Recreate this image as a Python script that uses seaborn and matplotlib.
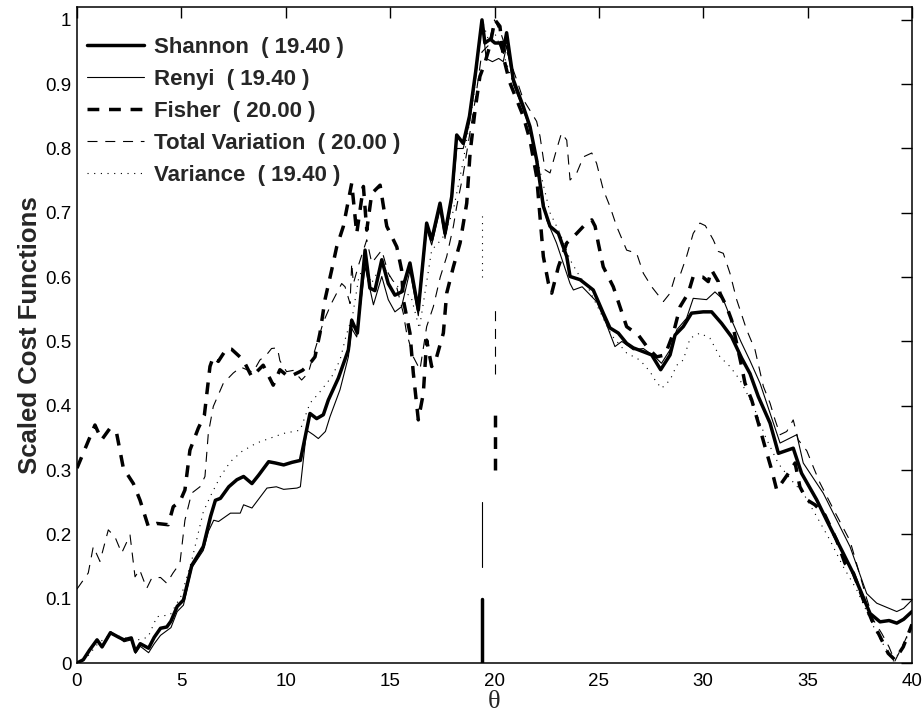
import numpy as np
import pandas as pd
import matplotlib
matplotlib.use("Agg")
import matplotlib.pyplot as plt
import seaborn as sns

# ---------------- data ----------------
shannon_t = [0, 0.3, 0.6, 0.96, 1.2, 1.6, 2.0, 2.25, 2.6, 2.8, 3.03, 3.43, 3.7, 4.0, 4.3, 4.5, 4.8, 5.1, 5.5, 6.05,
             6.4, 6.63, 6.87, 7.27, 7.66, 7.98, 8.38, 8.7, 9.18, 9.5, 9.9, 10.3, 10.7, 11.16, 11.48, 11.8, 12.04, 12.52,
             13.0, 13.16, 13.43, 13.8, 14.03, 14.27, 14.6, 14.91, 15.23, 15.55, 15.95, 16.35, 16.75, 16.99, 17.39,
             17.63, 17.95, 18.19, 18.5, 18.8, 19.1, 19.4, 19.54, 19.8, 20.02, 20.26, 20.42, 20.58, 20.9, 21.38, 21.7,
             22.02, 22.34, 22.66, 23.06, 23.46, 23.62, 24.1, 24.73, 25.21, 25.53, 25.93, 26.33, 26.65, 27.13, 27.53,
             27.96, 28.41, 28.65, 29.04, 29.44, 30.0, 30.4, 30.88, 31.36, 31.84, 32.24, 32.64, 33.2, 33.6, 34.31,
             34.71, 35.43, 35.91, 36.7, 37.19, 37.99, 38.47, 38.9, 39.27, 39.6, 40]
shannon_v = [0, 0.005, 0.02, 0.036, 0.025, 0.047, 0.04, 0.036, 0.039, 0.018, 0.03, 0.023, 0.04, 0.054, 0.056, 0.065,
             0.088, 0.098, 0.152, 0.181, 0.228, 0.253, 0.256, 0.274, 0.285, 0.29, 0.279, 0.292, 0.313, 0.311, 0.308,
             0.312, 0.315, 0.388, 0.38, 0.386, 0.409, 0.443, 0.487, 0.533, 0.513, 0.642, 0.583, 0.579, 0.627, 0.59,
             0.572, 0.577, 0.622, 0.549, 0.684, 0.658, 0.715, 0.668, 0.725, 0.821, 0.808, 0.85, 0.92, 1.0, 0.964,
             0.97, 0.964, 0.964, 0.951, 0.98, 0.907, 0.865, 0.834, 0.782, 0.71, 0.679, 0.668, 0.632, 0.601, 0.596,
             0.58, 0.544, 0.521, 0.513, 0.497, 0.49, 0.484, 0.479, 0.456, 0.479, 0.51, 0.523, 0.544, 0.546, 0.546,
             0.528, 0.507, 0.474, 0.45, 0.414, 0.373, 0.326, 0.334, 0.295, 0.254, 0.222, 0.171, 0.139, 0.077, 0.064,
             0.066, 0.062, 0.068, 0.08]

renyi_t = [0, 0.3, 0.6, 0.96, 1.2, 1.6, 2.0, 2.25, 2.6, 2.8, 3.03, 3.43, 3.7, 4.0, 4.5, 4.8, 5.1, 5.5, 6.05, 6.3,
           6.55, 6.78, 7.35, 7.82, 7.98, 8.38, 9.1, 9.55, 9.9, 10.54, 10.7, 11.0, 11.32, 11.56, 11.9, 12.12, 12.6,
           13.0, 13.16, 13.4, 13.8, 14.2, 14.6, 14.91, 15.23, 15.55, 15.95, 16.35, 16.75, 16.99, 17.39, 17.63, 17.95,
           18.19, 18.5, 18.8, 19.1, 19.4, 19.6, 19.9, 20.2, 20.42, 20.58, 20.9, 21.38, 21.7, 22.02, 22.5, 22.97,
           23.62, 23.78, 24.2, 24.89, 25.37, 25.77, 26.1, 26.65, 27.13, 27.69, 28.0, 28.41, 28.73, 29.2, 29.52,
           30.16, 30.56, 30.96, 31.28, 31.8, 32.24, 32.72, 33.68, 34.48, 34.79, 35.75, 37.03, 37.83, 38.31, 38.9,
           39.27, 39.6, 40]
renyi_v = [0, 0.005, 0.02, 0.034, 0.025, 0.049, 0.04, 0.033, 0.036, 0.015, 0.026, 0.016, 0.03, 0.043, 0.055, 0.08,
           0.09, 0.148, 0.175, 0.205, 0.222, 0.22, 0.233, 0.233, 0.246, 0.241, 0.272, 0.274, 0.27, 0.272, 0.274,
           0.362, 0.355, 0.349, 0.36, 0.383, 0.425, 0.476, 0.52, 0.507, 0.616, 0.557, 0.601, 0.565, 0.546, 0.554,
           0.61, 0.54, 0.675, 0.65, 0.705, 0.66, 0.715, 0.8, 0.8, 0.84, 0.91, 1.0, 0.94, 0.935, 0.94, 0.935, 0.96,
           0.9, 0.86, 0.83, 0.78, 0.689, 0.653, 0.59, 0.58, 0.585, 0.562, 0.526, 0.492, 0.5, 0.487, 0.489, 0.476,
           0.466, 0.487, 0.518, 0.536, 0.567, 0.565, 0.577, 0.565, 0.539, 0.5, 0.47, 0.435, 0.342, 0.355, 0.311,
           0.264, 0.181, 0.108, 0.093, 0.085, 0.08, 0.085, 0.098]

fisher_t = [0, 0.86, 1.18, 1.58, 1.9, 2.22, 2.7, 3.02, 3.42, 3.82, 4.37, 4.61, 4.93, 5.17, 5.41, 5.81, 6.1, 6.37,
            6.53, 6.77, 7.17, 7.4, 7.97, 8.37, 8.92, 9.4, 9.72, 10.13, 10.36, 10.8, 11.16, 11.4, 11.64, 11.88, 12.2,
            12.44, 12.76, 13.16, 13.4, 13.72, 13.88, 14.12, 14.52, 14.68, 14.84, 15.32, 15.55, 15.63, 15.95, 16.11,
            16.35, 16.59, 16.75, 16.99, 17.23, 17.55, 17.71, 18.03, 18.35, 18.51, 18.67, 18.83, 19.07, 19.3, 19.54,
            19.78, 20.02, 20.26, 20.42, 20.58, 20.74, 21.06, 21.38, 21.7, 22.02, 22.18, 22.34, 22.58, 22.74, 23.06,
            23.46, 23.94, 24.26, 24.66, 24.82, 24.97, 25.21, 25.69, 26.01, 26.33, 26.89, 27.37, 27.77, 28.17, 28.57,
            28.89, 29.28, 29.52, 29.98, 30.24, 30.4, 30.72, 30.8, 31.12, 31.36, 31.84, 32.0, 32.32, 32.64, 32.96,
            33.28, 33.52, 34.08, 34.4, 34.63, 34.95, 35.35, 35.83, 36.39, 36.79, 37.19, 37.67, 38.07, 38.47, 38.86,
            39.18, 39.58, 40]
fisher_v = [0.303, 0.37, 0.347, 0.365, 0.357, 0.303, 0.279, 0.253, 0.212, 0.217, 0.215, 0.243, 0.251, 0.269, 0.331,
            0.365, 0.385, 0.461, 0.476, 0.469, 0.489, 0.488, 0.471, 0.445, 0.463, 0.432, 0.456, 0.445, 0.448, 0.455,
            0.466, 0.476, 0.513, 0.565, 0.611, 0.647, 0.679, 0.746, 0.668, 0.741, 0.673, 0.73, 0.743, 0.71, 0.679,
            0.647, 0.611, 0.565, 0.513, 0.451, 0.378, 0.419, 0.502, 0.461, 0.476, 0.513, 0.575, 0.616, 0.653, 0.684,
            0.715, 0.793, 0.86, 0.912, 0.933, 0.96, 1.0, 0.99, 0.943, 0.922, 0.902, 0.876, 0.85, 0.813, 0.756, 0.694,
            0.632, 0.591, 0.575, 0.616, 0.653, 0.668, 0.679, 0.689, 0.679, 0.653, 0.616, 0.585, 0.554, 0.523, 0.51,
            0.489, 0.476, 0.479, 0.513, 0.554, 0.575, 0.601, 0.6, 0.593, 0.611, 0.593, 0.575, 0.554, 0.533, 0.461,
            0.435, 0.409, 0.373, 0.336, 0.3, 0.269, 0.295, 0.311, 0.274, 0.254, 0.246, 0.23, 0.191, 0.155, 0.14,
            0.098, 0.067, 0.041, 0.015, 0.005, 0.025, 0.06]

tv_t = [0, 0.54, 0.78, 1.1, 1.5, 1.82, 2.14, 2.54, 2.78, 3.0, 3.34, 3.58, 4.0, 4.3, 4.6, 4.93, 5.17, 5.49, 5.89,
        6.13, 6.29, 6.53, 7.01, 7.49, 7.85, 8.43, 8.76, 9.1, 9.32, 9.6, 9.72, 10.04, 10.36, 10.76, 11.08, 11.4, 11.8,
        12.2, 12.68, 12.84, 13.08, 13.16, 13.24, 13.5, 13.88, 14.12, 14.6, 14.91, 15.31, 15.63, 15.79, 16.11, 16.43,
        16.75, 17.07, 17.4, 17.71, 18.03, 18.19, 18.5, 18.8, 19.1, 19.4, 19.7, 20.0, 20.3, 20.6, 21.06, 21.38, 21.78,
        22.02, 22.18, 22.42, 22.66, 22.97, 23.21, 23.46, 23.62, 23.94, 24.26, 24.66, 24.89, 25.21, 25.53, 25.85,
        26.33, 26.81, 27.13, 27.53, 27.77, 28.09, 28.41, 28.65, 28.89, 29.2, 29.52, 29.84, 30.1, 30.48, 30.72,
        30.96, 31.28, 31.6, 32.08, 32.48, 32.88, 33.2, 33.44, 33.68, 34.0, 34.31, 34.55, 34.96, 35.27, 35.59, 36.3,
        37.03, 37.83, 38.15, 38.55, 38.9, 39.18, 39.6, 40]
tv_v = [0.115, 0.14, 0.181, 0.158, 0.207, 0.196, 0.171, 0.199, 0.134, 0.145, 0.116, 0.132, 0.133, 0.124, 0.14,
        0.155, 0.222, 0.264, 0.274, 0.29, 0.357, 0.399, 0.435, 0.451, 0.46, 0.452, 0.471, 0.48, 0.489, 0.49, 0.47,
        0.453, 0.455, 0.44, 0.451, 0.487, 0.53, 0.56, 0.59, 0.585, 0.559, 0.622, 0.59, 0.62, 0.658, 0.622, 0.642,
        0.606, 0.585, 0.544, 0.513, 0.476, 0.456, 0.523, 0.554, 0.6, 0.632, 0.679, 0.71, 0.76, 0.82, 0.88, 0.95,
        0.96, 1.0, 0.98, 0.95, 0.907, 0.876, 0.855, 0.842, 0.819, 0.767, 0.762, 0.798, 0.824, 0.813, 0.751, 0.762,
        0.787, 0.793, 0.777, 0.736, 0.71, 0.679, 0.642, 0.637, 0.606, 0.585, 0.575, 0.562, 0.575, 0.601, 0.603,
        0.632, 0.668, 0.684, 0.68, 0.658, 0.64, 0.637, 0.606, 0.565, 0.518, 0.487, 0.43, 0.404, 0.378, 0.355, 0.36,
        0.378, 0.347, 0.33, 0.305, 0.28, 0.235, 0.19, 0.1, 0.067, 0.046, 0.025, 0.003, 0.03, 0.06]

var_t = [0, 0.5, 1.0, 1.6, 2.2, 2.8, 3.4, 3.83, 4.47, 5.0, 5.5, 6.05, 6.4, 6.87, 7.35, 7.9, 8.6, 9.9, 10.69, 11.16,
         11.6, 12.2, 12.6, 12.9, 13.2, 13.5, 13.8, 14.1, 14.6, 15.0, 15.5, 16.0, 16.4, 16.99, 17.5, 18.0, 18.5,
         19.0, 19.4, 19.7, 20.0, 20.4, 20.8, 21.4, 22.0, 22.66, 23.14, 23.62, 24.1, 24.42, 25.0, 25.6, 26.33, 26.97,
         27.45, 27.69, 28.0, 28.41, 28.73, 29.04, 29.37, 29.84, 30.32, 30.8, 31.28, 31.76, 32.4, 33.0, 33.6, 34.2,
         34.79, 35.43, 36.07, 36.7, 37.35, 37.83, 38.31, 38.79, 39.1, 39.58, 40]
var_v = [0, 0.01, 0.03, 0.045, 0.04, 0.035, 0.04, 0.072, 0.075, 0.105, 0.16, 0.235, 0.26, 0.29, 0.313, 0.329, 0.342,
         0.357, 0.362, 0.404, 0.42, 0.445, 0.471, 0.51, 0.54, 0.6, 0.62, 0.59, 0.62, 0.6, 0.58, 0.57, 0.52, 0.642,
         0.66, 0.7, 0.78, 0.88, 1.0, 0.97, 0.98, 0.95, 0.91, 0.86, 0.79, 0.7, 0.668, 0.627, 0.6, 0.588, 0.55, 0.51,
         0.482, 0.471, 0.453, 0.44, 0.427, 0.44, 0.463, 0.471, 0.505, 0.513, 0.505, 0.476, 0.461, 0.44, 0.4, 0.35,
         0.31, 0.285, 0.264, 0.228, 0.191, 0.15, 0.114, 0.08, 0.046, 0.02, 0.003, 0.025, 0.06]

labels = ["Shannon  ( 19.40 )", "Renyi  ( 19.40 )", "Fisher  ( 20.00 )",
          "Total Variation  ( 20.00 )", "Variance  ( 19.40 )"]
optima = [19.40, 19.40, 20.00, 20.00, 19.40]
marker_lo = [0.0, 0.15, 0.30, 0.45, 0.60]
marker_hi = [0.10, 0.25, 0.40, 0.55, 0.70]

# ---------------- styling ----------------
sns.set_style("white")
plt.rcParams["font.family"] = ["Liberation Sans", "DejaVu Sans"]

styles = [dict(lw=2.5, dashes=None),
          dict(lw=0.8, dashes=None),
          dict(lw=2.5, dashes=(3.4, 2.8)),
          dict(lw=0.8, dashes=(9, 7)),
          dict(lw=0.8, dashes=(1, 5))]

series = [(shannon_t, shannon_v), (renyi_t, renyi_v), (fisher_t, fisher_v),
          (tv_t, tv_v), (var_t, var_v)]

fig = plt.figure(figsize=(9.23, 7.17), dpi=100)
ax = fig.add_axes([77 / 923, 1 - 663 / 717, (912 - 77) / 923, (663 - 7) / 717])

for (t, v), lab, st in zip(series, labels, styles):
    df = pd.DataFrame({"theta": t, "value": v})
    sns.lineplot(data=df, x="theta", y="value", ax=ax, color="black", lw=st["lw"],
                 label=lab, estimator=None, sort=False)
    line = ax.lines[-1]
    if st["dashes"] is not None:
        line.set_dashes(st["dashes"])

for opt, lo, hi, st in zip(optima, marker_lo, marker_hi, styles):
    ln, = ax.plot([opt, opt], [lo, hi], color="black", lw=st["lw"])
    if st["dashes"] is not None:
        ln.set_dashes(st["dashes"])

ax.set_xlim(0, 40)
ax.set_ylim(0, 1.02)
ax.set_xticks(np.arange(0, 41, 5))
ax.set_yticks(np.arange(0, 1.01, 0.1))
ax.set_yticklabels(["0", "0.1", "0.2", "0.3", "0.4", "0.5", "0.6", "0.7", "0.8", "0.9", "1"])
ax.tick_params(direction="in", length=8, width=1, top=True, right=True, labelsize=13.5,
               colors="black")
ax.tick_params(axis="x", pad=7)
ax.tick_params(axis="y", pad=4)
for s in ax.spines.values():
    s.set_visible(True)
    s.set_color("black")
    s.set_linewidth(1.1)

ax.set_xlabel("θ", fontsize=19, family=["Liberation Serif", "DejaVu Serif"], labelpad=1)
ax.set_ylabel("Scaled Cost Functions", fontsize=18.5, fontweight="bold", labelpad=2)

leg = ax.legend(loc="upper left", frameon=False, prop=dict(size=16, weight="bold"),
                handlelength=2.57, handletextpad=0.45, labelspacing=0.5,
                borderaxespad=0.2, bbox_to_anchor=(-0.0036, 0.975))

fig.savefig("out.png", dpi=100, facecolor="white")
